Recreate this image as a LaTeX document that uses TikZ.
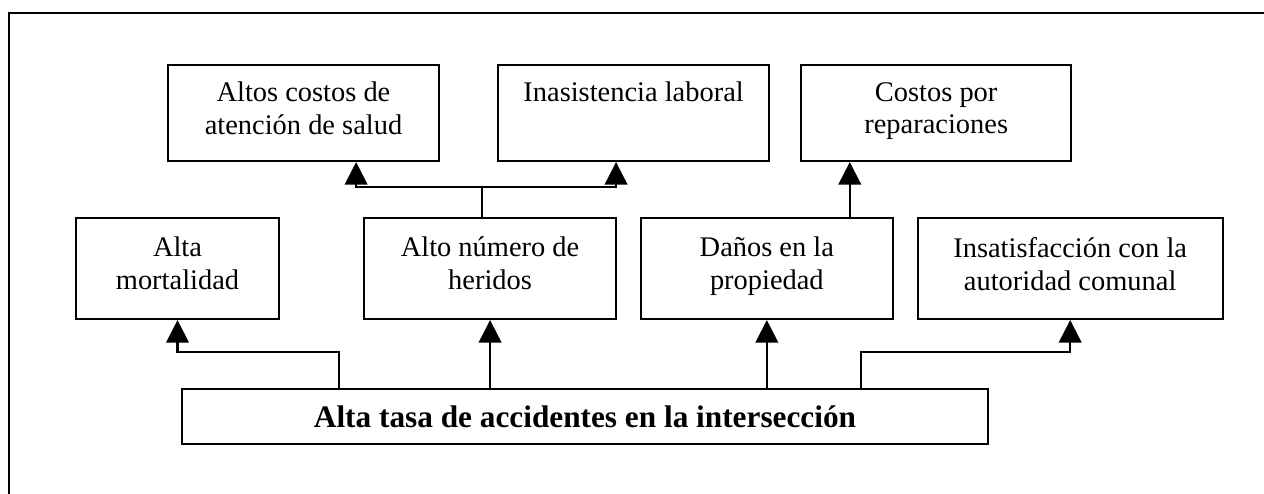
\documentclass[tikz,border=0pt]{standalone}
\usepackage{fontspec}
\setmainfont{Liberation Serif}
\usepackage{tikz}
\usetikzlibrary{positioning}
\usetikzlibrary{arrows.meta}
\usetikzlibrary{calc}

\begin{document}
\begin{tikzpicture}[x=0.422pt,y=-0.422pt,line width=0.9pt,
	>={Triangle[length=9.5pt,width=9.5pt]},
	effect/.style={rectangle,draw=black,line width=0.9pt,align=center,font=\fontsize{12}{13.9}\selectfont,
		execute at begin node=\strut,execute at end node=\strut},
	cause/.style={rectangle,draw=black,line width=0.9pt,align=center,minimum width=340pt,minimum height=23.2pt,font=\bfseries\fontsize{13.2}{16}\selectfont}]
	\useasboundingbox (0,0) rectangle (1264,493);
	\draw (9,510) |- (1280,13);

	\node[effect,minimum width=85.7pt,minimum height=42.6pt] (mortalidad) at (177.5,268.5) {Alta\\mortalidad};
	\node[effect,minimum width=106.3pt,minimum height=42.6pt] (heridos) [right=35pt of mortalidad] {Alto número de\\heridos};
	\node[effect,minimum width=106.3pt,minimum height=42.6pt] (danos) [right=9.6pt of heridos] {Daños en la\\propiedad};
	\node[effect,minimum width=128.7pt,minimum height=42.6pt] (insatisfaccion) [right=9.6pt of danos] {Insatisfacción con la\\autoridad comunal};

	\node[effect,minimum width=114.4pt,minimum height=40.5pt] (salud) at (303.5,113) {Altos costos de\\atención de salud};
	\node[effect,minimum width=114.4pt,minimum height=40.5pt] (inasistencia) [right=24pt of salud] {Inasistencia laboral\\~};
	\node[effect,minimum width=114pt,minimum height=40.5pt] (reparaciones) [right=12.6pt of inasistencia] {Costos por\\reparaciones};

	\node[cause] (accidentes) at (585,416.5) {Alta tasa de accidentes en la intersección};

	\draw[->] ([xshift=-103.8pt]accidentes.north) -- ++(0,15.2pt) -| (mortalidad.south);
	\draw[->] (accidentes.north -| heridos.south) -- (heridos.south);
	\draw[->] (accidentes.north -| danos.south) -- (danos.south);
	\draw[->] ([xshift=116.5pt]accidentes.north) -- ++(0,15.2pt) -| (insatisfaccion.south);

	\draw[->] ([xshift=-3.4pt]heridos.north) -- ++(0,12.7pt) coordinate (split) -| ([xshift=22.2pt]salud.south);
	\draw[->] (split) -| ([xshift=-7.4pt]inasistencia.south);
	\draw[->] ([xshift=35pt]danos.north) -- ([xshift=35pt]danos.north |- reparaciones.south);
\end{tikzpicture}
\end{document}
